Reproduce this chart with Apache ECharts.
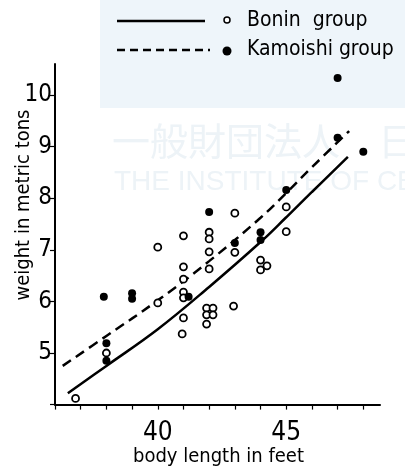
<!DOCTYPE html>
<html><head><meta charset="utf-8">
<script src="https://cdn.jsdelivr.net/npm/echarts/dist/echarts.min.js"></script>
<style>html,body{margin:0;padding:0;background:#fff}#c{width:405px;height:472px}</style>
</head><body><div id="c"></div>
<script>
// ---- data ----
const xLabelTicks = [40, 45];
const yLabelTicks = [5, 6, 7, 8, 9, 10];
const boninPoints = [
  [36.8, 4.12], [38.0, 5.0], [40.0, 7.05], [40.0, 5.97],
  [41.0, 7.27], [41.0, 6.67], [41.0, 6.43], [41.0, 6.18], [41.0, 6.07], [41.0, 5.68], [40.95, 5.37],
  [42.0, 7.34], [42.0, 7.21], [42.0, 6.96], [42.0, 6.63],
  [41.9, 5.87], [42.15, 5.87], [41.9, 5.74], [42.15, 5.74], [41.9, 5.56],
  [43.0, 7.71], [43.0, 6.95], [42.95, 5.91],
  [44.0, 6.80], [44.25, 6.69], [44.0, 6.61],
  [45.0, 7.83], [45.0, 7.35]
];
const kamoishiPoints = [
  [37.9, 6.09], [39.0, 6.16], [39.0, 6.05], [38.0, 5.19], [38.0, 4.85],
  [41.2, 6.09], [42.0, 7.73], [43.0, 7.13], [44.0, 7.34], [44.0, 7.19],
  [45.0, 8.16], [47.0, 9.17], [48.0, 8.9], [47.0, 10.33]
];
const boninCurve = [
  [36.5, 4.22], [38, 4.75], [40, 5.46], [42, 6.28], [44, 7.15], [45, 7.63], [46, 8.12], [47.4, 8.8]
];
const kamoishiCurve = [
  [36.3, 4.75], [38, 5.33], [40, 6.02], [42, 6.78], [44, 7.62], [45, 8.1], [46, 8.6], [47.45, 9.3]
];
const legendNames = ['Bonin  group', 'Kamoishi group'];
const xTitle = 'body length in feet';
const yTitle = 'weight in metric tons';

const FONT = '"DejaVu Sans Condensed", "Liberation Sans", sans-serif';
const chart = echarts.init(document.getElementById('c'), null, {renderer: 'canvas'});
chart.setOption({
  animation: false,
  backgroundColor: '#fff',
  grid: {left: 55, right: 25, top: 64, height: 340.6},
  xAxis: {
    type: 'value', min: 36, max: 48.65, interval: 1,
    splitLine: {show: false},
    axisLine: {lineStyle: {color: '#000', width: 2}},
    axisTick: {length: 5, lineStyle: {color: '#000', width: 1.2}},
    axisLabel: {
      color: '#000', fontSize: 26, fontFamily: FONT, margin: 16,
      showMaxLabel: false,
      formatter: v => xLabelTicks.indexOf(v) >= 0 ? String(v) : ''
    }
  },
  yAxis: {
    type: 'value', min: 4, max: 10.6, interval: 1,
    splitLine: {show: false},
    axisLine: {lineStyle: {color: '#000', width: 2}},
    axisTick: {length: 5, lineStyle: {color: '#000', width: 1.2}},
    axisLabel: {
      color: '#000', fontSize: 24, fontFamily: FONT, margin: 3,
      showMaxLabel: false,
      formatter: v => yLabelTicks.indexOf(v) >= 0 ? String(v) : ''
    }
  },
  graphic: [
    {type: 'rect', z: -10, shape: {x: 100, y: 0, width: 305, height: 108}, style: {fill: '#eef5fa'}},
    {type: 'text', z: -9, left: 112, top: 122, style: {text: '一般財団法人　日本鯨類研究所', fill: '#edf3f7', font: '38px "Noto Sans CJK JP"'}},
    {type: 'text', z: -9, left: 114, top: 168, style: {text: 'THE INSTITUTE OF CETACEAN RESEARCH', fill: '#edf3f7', font: '28px "Liberation Sans"'}},
    {type: 'line', shape: {x1: 117, y1: 21, x2: 205, y2: 21}, style: {stroke: '#000', lineWidth: 2.5}},
    {type: 'circle', shape: {cx: 227, cy: 20, r: 3}, style: {fill: '#fff', stroke: '#000', lineWidth: 1.5}},
    {type: 'text', left: 247, top: 10, style: {text: legendNames[0], fill: '#000', font: '21px ' + FONT}},
    {type: 'line', shape: {x1: 117, y1: 50, x2: 210, y2: 50}, style: {stroke: '#000', lineWidth: 2.5, lineDash: [8, 5]}},
    {type: 'circle', shape: {cx: 227, cy: 51, r: 4.5}, style: {fill: '#000'}},
    {type: 'text', left: 247, top: 39, style: {text: legendNames[1], fill: '#000', font: '21px ' + FONT}},
    {type: 'text', left: 133, top: 447, style: {text: xTitle, fill: '#000', font: '20px ' + FONT}},
    {type: 'text', x: 24, y: 205, rotation: Math.PI / 2, style: {text: yTitle, fill: '#000', font: '20px ' + FONT, textAlign: 'center', textVerticalAlign: 'middle'}}
  ],
  series: [
    {type: 'line', data: boninCurve, smooth: 0.4, symbol: 'none', z: 3,
     lineStyle: {color: '#000', width: 2.5}},
    {type: 'line', data: kamoishiCurve, smooth: 0.4, symbol: 'none', z: 3,
     lineStyle: {color: '#000', width: 2.5, type: [10, 6]}},
    {type: 'scatter', data: boninPoints, symbol: 'circle', symbolSize: 7, z: 4,
     itemStyle: {color: '#fff', borderColor: '#000', borderWidth: 1.8, opacity: 1}},
    {type: 'scatter', data: kamoishiPoints, symbol: 'circle', symbolSize: 8, z: 5,
     itemStyle: {color: '#000', opacity: 1}}
  ]
});
</script></body></html>
